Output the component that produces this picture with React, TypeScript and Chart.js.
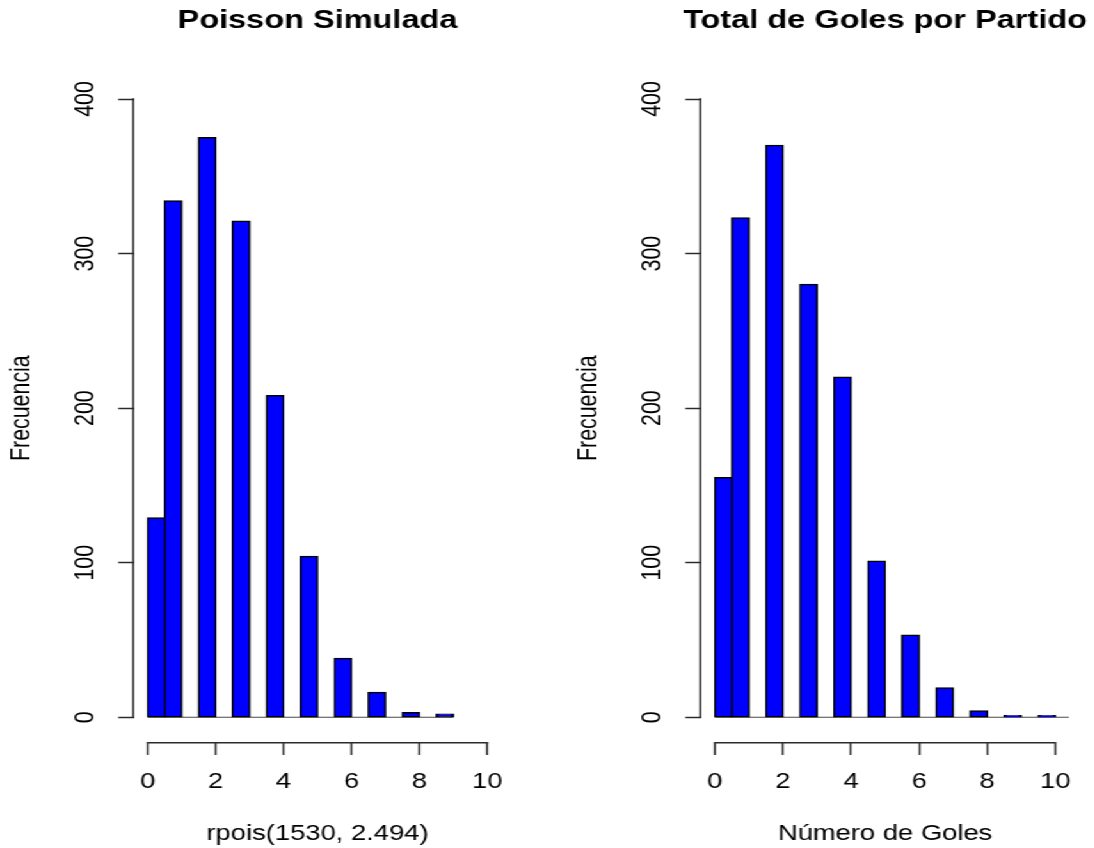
import { useEffect, useRef } from "react";
import { Chart, registerables } from "chart.js";

Chart.register(...registerables);

// Goal values (one histogram bin each) and how often each occurred
const goalsSimulated = [0, 1, 2, 3, 4, 5, 6, 7, 8, 9];
const freqSimulated = [129, 334, 375, 321, 208, 104, 38, 16, 3, 2];

const goalsObserved = [0, 1, 2, 3, 4, 5, 6, 7, 8, 9, 10];
const freqObserved = [155, 323, 370, 280, 220, 101, 53, 19, 4, 1, 1];

const xTickValues = [0, 2, 4, 6, 8, 10];
const yTickValues = [0, 100, 200, 300, 400];

const panelTitles = ["Poisson Simulada", "Total de Goles por Partido"];
const xTitles = ["rpois(1530, 2.494)", "Número de Goles"];
const yTitle = "Frecuencia";

// histogram breaks are every half unit: bin (k - 0.5, k] holds the value k
const BIN_WIDTH = 0.5;
const binLeft = (k: number) => Math.max(k - BIN_WIDTH, 0);
const binCenter = (k: number) => binLeft(k) + BIN_WIDTH / 2;

// the drawing is done on a narrower canvas and widened horizontally
const STRETCH = 1.28;
const CANVAS_W = 427;
const CANVAS_H = 848;

const FONT_FAMILY = '"Liberation Sans", Arial, Helvetica, sans-serif';
const LABEL_SIZE = 21.4;
const TITLE_SIZE = 25.4;
const TITLE_BAND = 74.3; // height reserved above the plot for the main title
const TITLE_Y = 21.0;
const AXIS_COLOR = "#2b2b2b";
const AXIS_WIDTH = 1.5;
const BAR_BORDER = 1.5;

type PanelSpec = {
  title: string;
  xTitle: string;
  goals: number[];
  freq: number[];
  padLeft: number;
  padRight: number;
  baselineToEdge: boolean;
};

// R-style axes: lines only span the first..last tick; zero baseline under the bins;
// main title centred over the plot region
const histAxes = {
  id: "histAxes",
  beforeDatasetsDraw(chart: any, _args: any, opts: any) {
    const { ctx, chartArea, scales } = chart;
    const x = scales.x;
    const y = scales.y;
    const y0 = y.getPixelForValue(0);
    const xa = x.getPixelForValue(0);
    const xb = opts.baselineToEdge ? chartArea.right : x.getPixelForValue(opts.lastEdge);
    ctx.save();
    ctx.beginPath();
    ctx.rect(chartArea.left, chartArea.top, chartArea.width, chartArea.height);
    ctx.clip();
    ctx.strokeStyle = "#4a4a4a";
    ctx.lineWidth = 1.1;
    ctx.beginPath();
    ctx.moveTo(xa, y0);
    ctx.lineTo(xb, y0);
    ctx.stroke();
    ctx.restore();
  },
  afterDraw(chart: any, _args: any, opts: any) {
    const { ctx, chartArea, scales } = chart;
    const x = scales.x;
    const y = scales.y;
    ctx.save();
    ctx.strokeStyle = AXIS_COLOR;
    ctx.lineWidth = AXIS_WIDTH;
    ctx.lineCap = "butt";
    const yb = chartArea.bottom + 0.75;
    ctx.beginPath();
    ctx.moveTo(x.getPixelForValue(xTickValues[0]) - 0.6, yb);
    ctx.lineTo(x.getPixelForValue(xTickValues[xTickValues.length - 1]) + 0.6, yb);
    ctx.stroke();
    const xl = chartArea.left - 0.75;
    ctx.beginPath();
    ctx.moveTo(xl, y.getPixelForValue(yTickValues[0]) + 0.75);
    ctx.lineTo(xl, y.getPixelForValue(yTickValues[yTickValues.length - 1]) - 0.75);
    ctx.stroke();

    ctx.fillStyle = "#000";
    ctx.font = `bold ${TITLE_SIZE}px ${FONT_FAMILY}`;
    ctx.textAlign = "center";
    ctx.textBaseline = "middle";
    ctx.fillText(opts.title, (chartArea.left + chartArea.right) / 2, TITLE_Y);
    ctx.restore();
  },
};

function makeConfig(p: PanelSpec): any {
  const labelFont = { family: FONT_FAMILY, size: LABEL_SIZE, weight: "normal" };
  const points = p.goals.map((g, i) => ({ x: binCenter(g), y: p.freq[i] }));
  const lastEdge = p.goals[p.goals.length - 1];
  return {
    type: "bar",
    data: {
      datasets: [
        {
          data: points,
          backgroundColor: "#0000ff",
          borderColor: "#000000",
          borderWidth: BAR_BORDER,
          borderSkipped: false,
          // outlines sit centred on the bin edges, so neighbouring bins share one line
          inflateAmount: BAR_BORDER / 2,
          barPercentage: 1,
          categoryPercentage: 1,
        },
      ],
    },
    options: {
      responsive: false,
      animation: false,
      events: [],
      layout: { padding: { left: p.padLeft, right: p.padRight, top: TITLE_BAND, bottom: 0 } },
      plugins: {
        legend: { display: false },
        tooltip: { enabled: false },
        title: { display: false },
        histAxes: { baselineToEdge: p.baselineToEdge, lastEdge, title: p.title },
      },
      scales: {
        x: {
          type: "linear",
          min: -0.4,
          max: 10.4,
          offset: false,
          afterBuildTicks: (s: any) => {
            s.ticks = xTickValues.map((v) => ({ value: v }));
          },
          afterFit: (s: any) => {
            s.height = 106;
          },
          grid: {
            display: true,
            offset: false,
            drawOnChartArea: false,
            drawTicks: true,
            tickLength: 13,
            tickColor: AXIS_COLOR,
            tickWidth: AXIS_WIDTH,
          },
          border: { display: false },
          ticks: {
            autoSkip: false,
            maxRotation: 0,
            minRotation: 0,
            padding: 13.9,
            color: "#000",
            font: labelFont,
            callback: (v: any) => String(v),
          },
          title: {
            display: true,
            text: p.xTitle,
            color: "#000",
            font: labelFont,
            padding: { top: 0, bottom: 1.2 },
          },
        },
        y: {
          type: "linear",
          min: -16,
          max: 416,
          afterBuildTicks: (s: any) => {
            s.ticks = yTickValues.map((v) => ({ value: v }));
          },
          afterFit: (s: any) => {
            s.width = 104.8;
          },
          grid: {
            display: true,
            drawOnChartArea: false,
            drawTicks: true,
            tickLength: 12.5,
            tickColor: AXIS_COLOR,
            tickWidth: AXIS_WIDTH,
          },
          border: { display: false },
          ticks: {
            minRotation: 90,
            maxRotation: 90,
            crossAlign: "center",
            padding: 7.0,
            color: "#000",
            font: labelFont,
            callback: (v: any) => String(v),
          },
          title: {
            display: true,
            text: yTitle,
            color: "#000",
            font: labelFont,
            padding: { top: 4.4, bottom: 0 },
          },
        },
      },
    },
    plugins: [histAxes],
  };
}

function HistPanel({ spec }: { spec: PanelSpec }) {
  const ref = useRef<HTMLCanvasElement | null>(null);
  useEffect(() => {
    if (!ref.current) return;
    const chart = new Chart(ref.current, makeConfig(spec));
    return () => chart.destroy();
  }, [spec]);
  return (
    <canvas
      ref={ref}
      width={CANVAS_W}
      height={CANVAS_H}
      style={{ display: "block", width: CANVAS_W, height: CANVAS_H }}
    />
  );
}

const panels: PanelSpec[] = [
  {
    title: panelTitles[0],
    xTitle: xTitles[0],
    goals: goalsSimulated,
    freq: freqSimulated,
    padLeft: 0,
    padRight: 35.7,
    baselineToEdge: false,
  },
  {
    title: panelTitles[1],
    xTitle: xTitles[1],
    goals: goalsObserved,
    freq: freqObserved,
    padLeft: 16.1,
    padRight: 18.9,
    baselineToEdge: true,
  },
];

export default function App() {
  return (
    <div
      style={{
        position: "absolute",
        left: 0,
        top: 0,
        width: 1094,
        height: CANVAS_H,
        overflow: "hidden",
        background: "#fff",
      }}
    >
      <div
        style={{
          display: "flex",
          width: CANVAS_W * 2,
          height: CANVAS_H,
          transform: `scaleX(${STRETCH})`,
          transformOrigin: "0 0",
        }}
      >
        <HistPanel spec={panels[0]} />
        <HistPanel spec={panels[1]} />
      </div>
    </div>
  );
}
